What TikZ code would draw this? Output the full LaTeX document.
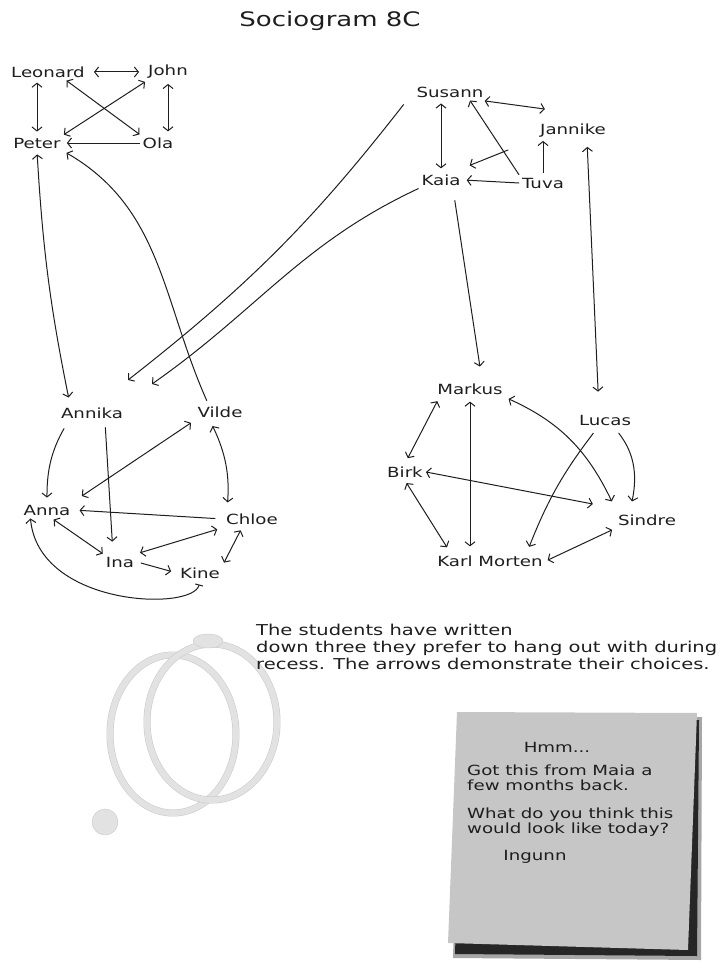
\documentclass[tikz,border=0pt]{standalone}
\usepackage{fontspec}
\setmainfont{DejaVu Sans}
\newfontfamily\hand[FakeStretch=1.3]{DejaVu Sans}
\usetikzlibrary{arrows.meta,positioning}
\definecolor{pencil}{HTML}{1E1E1E}
\definecolor{stain}{HTML}{E2E2E2}
\definecolor{stainrim}{HTML}{C8C8C8}
\definecolor{postit}{HTML}{C6C6C6}
\tikzset{pupil/.style={font=\hand\fontsize{14}{16}\selectfont,text=pencil,inner sep=3pt},choice/.style={draw=pencil,line width=1pt,line cap=round,-{Straight Barb[length=4pt,width=10pt]}},mutual/.style={choice,{Straight Barb[length=4pt,width=10pt]}-{Straight Barb[length=4pt,width=10pt]}},ring/.style={draw=stainrim,double=stain,double distance=6pt,line width=.5pt},notetext/.style={font=\hand\fontsize{14}{15}\selectfont,text=pencil,align=left,inner sep=0pt}}

\begin{document}
\begin{tikzpicture}[x=1pt,y=-1pt]
\useasboundingbox (0,0) rectangle (724,971);
% coffee stains
\draw[ring] (173,734) ellipse (63 and 79);
\draw[ring] (212,722) ellipse (65 and 78);
\fill[stain,draw=stainrim] (208,641) ellipse (15 and 7);
\fill[stain,draw=stainrim] (105,822) circle (13);
\node[pupil,font=\hand\fontsize{20}{22}\selectfont] (title) at (330,21) {Sociogram 8C};
% group one
\node[pupil] (leonard) at (48,72) {Leonard};
\node[pupil] (john) at (168,72) {John};
\node[pupil] (peter) at (37,143) {Peter};
\node[pupil] (ola) at (158,143) {Ola};
% group two
\node[pupil] (susann) at (450,92) {Susann};
\node[pupil] (jannike) at (573,131) {Jannike};
\node[pupil] (kaia) at (441,180) {Kaia};
\node[pupil] (tuva) at (543,183) {Tuva};
% group three
\node[pupil] (annika) at (92,413) {Annika};
\node[pupil] (vilde) at (220,412) {Vilde};
\node[pupil] (anna) at (47,510) {Anna};
\node[pupil] (chloe) at (252,519) {Chloe};
\node[pupil] (ina) at (120,562) {Ina};
\node[pupil] (kine) at (200,573) {Kine};
% group four
\node[pupil] (markus) at (470,389) {Markus};
\node[pupil] (lucas) at (605,420) {Lucas};
\node[pupil] (birk) at (405,472) {Birk};
\node[pupil] (sindre) at (647,520) {Sindre};
\node[pupil] (karlmorten) at (490,561) {Karl Morten};
\coordinate (lost1) at (128,380);
\coordinate (lost2) at (152,384);
\coordinate (tuvabend) at (508,150);
% choices, group one
\draw[mutual,shorten <=6pt,shorten >=6pt] (leonard) -- (john);
\draw[mutual,shorten <=2pt,shorten >=3pt] (leonard.south -| peter) -- (peter.north);
\draw[mutual,shorten <=2pt,shorten >=3pt] (john.south) -- (john.south |- ola.north);
\draw[mutual] (leonard.-25) -- (ola.north west);
\draw[mutual] (john.south west) -- (peter.north east);
\draw[choice,shorten >=3pt] (ola) -- (peter);
\draw[mutual,shorten <=3pt,shorten >=7pt] (peter.south) to[bend right=4] ([xshift=-22pt]annika.north);
\draw[choice,shorten <=3pt,shorten >=3pt] ([xshift=-12pt]vilde.north) to[out=114,in=-30] (peter.south east);
\draw[choice,shorten <=16pt] (susann.west) to[out=-128,in=38] (lost1);
\draw[choice] (kaia.south west) to[out=-155,in=35] (lost2);
% choices, group two
\draw[mutual,shorten <=3pt,shorten >=3pt] (kaia.north |- susann.south) -- (kaia.north);
\draw[mutual,shorten <=3pt] (susann.-15) -- ([xshift=8pt,yshift=12pt]jannike.north west);
\draw[choice] (tuva.north west) -- ([xshift=20pt]susann.south);
\draw[choice] (tuvabend) -- ([xshift=6pt,yshift=6pt]kaia.north east);
\draw[choice,shorten >=3pt] (tuva.west) -- (kaia.east);
\draw[choice,shorten <=2pt] (tuva.north) -- (tuva.north |- jannike.south);
\draw[mutual,shorten <=6pt,shorten >=20pt] ([xshift=14pt]jannike.south) -- ([xshift=-6pt]lucas.north);
\draw[choice,shorten <=12pt,shorten >=14pt] ([xshift=12pt]kaia.south) -- ([xshift=12pt]markus.north);
% choices, group three
\draw[choice,shorten <=8pt,shorten >=4pt] ([xshift=-24pt]annika.south) to[bend right=15] (anna.north);
\draw[choice,shorten <=6pt,shorten >=12pt] ([xshift=13pt]annika.south) -- ([xshift=-7pt]ina.north);
\draw[mutual,shorten <=4pt,shorten >=10pt] (vilde.south west) -- (anna.north east);
\draw[mutual,shorten <=6pt,shorten >=8pt] ([xshift=-10pt]vilde.south) to[bend left=15] ([xshift=4pt]chloe.north west);
\draw[choice,shorten <=8pt,shorten >=6pt] (chloe.west) -- (anna.east);
\draw[mutual,shorten <=2pt] ([xshift=5pt]anna.south) -- (ina.north west);
\draw[mutual,shorten <=6pt,shorten >=3pt] (chloe.south west) -- (ina.north east);
\draw[choice,shorten <=4pt,shorten >=6pt] (ina.east) -- (kine.west);
\draw[mutual,shorten <=3pt,shorten >=2pt] ([xshift=-10pt]chloe.south) -- (kine.north east);
\draw[choice,{Bar[width=8pt]}-{Straight Barb[length=4pt,width=10pt]},shorten <=3pt] (kine.south) .. controls +(-8,30) and +(8,88) .. ([xshift=10pt]anna.south west);
% choices, group four
\draw[mutual,shorten <=4pt,shorten >=6pt] ([xshift=5pt]markus.south west) -- (birk.north);
\draw[mutual,shorten <=4pt,shorten >=6pt] (markus.south) -- (markus.south |- karlmorten.north);
\draw[mutual,shorten <=3pt] (markus.south east) to[bend left=20] ([xshift=-3pt,yshift=10pt]sindre.north west);
\draw[mutual] (birk.east) -- ([xshift=-22pt,yshift=16pt]sindre.west);
\draw[choice,shorten <=6pt] ([xshift=10pt]lucas.south) to[bend left=25] ([xshift=-15pt,yshift=10pt]sindre.north);
\draw[choice,shorten <=6pt,shorten >=6pt] ([xshift=-8pt]lucas.south) to[bend right=8] ([xshift=37pt]karlmorten.north);
\draw[mutual,shorten <=3pt,shorten >=6pt] (birk.south) -- ([xshift=16pt]karlmorten.north west);
\draw[mutual,shorten <=3pt,shorten >=2pt] (sindre.south west) -- (karlmorten.east);
% caption
\node[notetext,font=\hand\fontsize{15}{17}\selectfont,anchor=north west] (caption) at (256,624) {The students have written\\down three they prefer to hang out with during\\recess. The arrows demonstrate their choices.};
% sticky note
\fill[black!35] (460,717) -- (702,717) -- (701,960) -- (453,958) -- cycle;
\fill[black!85] (462,720) -- (699,720) -- (697,956) -- (455,954) -- cycle;
\fill[postit] (457,712) -- (697,713) -- (688,950) -- (448,943) -- cycle;
\node[notetext] (hmm) at (557,747) {Hmm...};
\node[notetext,anchor=north west] (notebody) at (467,765) {Got this from Maia a\\few months back.\\[13pt]What do you think this\\would look like today?};
\node[notetext] (signature) at (535,857) {Ingunn};
\end{tikzpicture}
\end{document}
